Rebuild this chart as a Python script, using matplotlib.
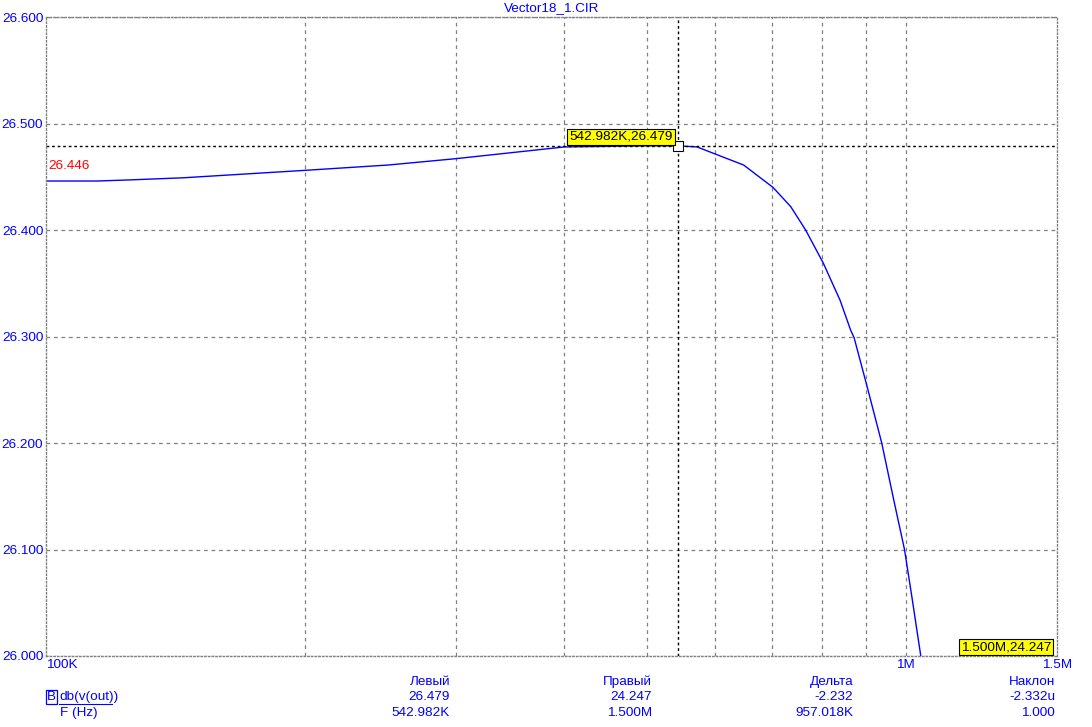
import numpy as np
import matplotlib.pyplot as plt
from matplotlib.lines import Line2D

plt.rcParams['font.family'] = ['Liberation Sans', 'DejaVu Sans']

# curve data: frequency (kHz) and db(v(out))
freq_k = [100, 114.7, 124.8, 144.3, 200, 250, 300, 401, 500, 543, 572, 602, 648,
          701, 735, 765, 802, 839, 863, 871, 902, 938, 969, 997, 1018, 1041, 1500]
db_out = [26.446, 26.446, 26.447, 26.449, 26.456, 26.461, 26.467, 26.478, 26.479, 26.479,
          26.478, 26.471, 26.461, 26.440, 26.422, 26.400, 26.369, 26.334, 26.306,
          26.299, 26.253, 26.200, 26.146, 26.100, 26.053, 26.001, 24.247]

grid_freq_k = [200, 300, 400, 500, 600, 700, 800, 900, 1000]
y_ticks = [26.0, 26.1, 26.2, 26.3, 26.4, 26.5, 26.6]
x_labels = [(100, '100K', 'left'), (1000, '1M', 'center'), (1500, '1.5M', 'center')]

cursor_f_k = 542.982
cursor_db = 26.479
right_f_k = 1500
right_db = 24.247

col_heads = ['Левый', 'Правый', 'Дельта', 'Наклон']
row_db = ['26.479', '24.247', '-2.232', '-2.332u']
row_f = ['542.982K', '1.500M', '957.018K', '1.000']

W, H = 1092, 727
BLUE = '#0000FF'
FS = 9.7


def px(x, y):
    return x / W, 1 - y / H


fig = plt.figure(figsize=(W / 100, H / 100), dpi=100, facecolor='white')
l, t = px(46, 17)
r, b = px(1057, 656)
ax = fig.add_axes([l, b, r - l, t - b])

f_hz = np.array(freq_k) * 1e3
ax.plot(f_hz, db_out, color=BLUE, lw=1.0)
ax.set_xscale('log')
ax.set_xlim(100e3, 1.5e6)
ax.set_ylim(26.0, 26.6)

ax.set_xticks(np.array(grid_freq_k) * 1e3)
ax.set_xticklabels([])
ax.xaxis.set_minor_locator(plt.NullLocator())
ax.set_yticks(y_ticks)
ax.set_yticklabels(['%.3f' % v for v in y_ticks], color=BLUE, fontsize=FS)
ax.tick_params(length=0, pad=2)
ax.grid(True, color='#808080', lw=0.9, ls=(0, (3, 3)))

for s in ax.spines.values():
    s.set_color('#808080')
    s.set_linestyle(':')
    s.set_linewidth(1.0)

for f, lab, ha in x_labels:
    ax.text(f * 1e3, -0.005, lab, transform=ax.get_xaxis_transform(),
            ha=ha, va='top', color=BLUE, fontsize=FS)

# cursor lines
ax.axvline(cursor_f_k * 1e3, color='black', lw=1.0, ls=(0, (2, 2)))
ax.axhline(cursor_db, color='black', lw=1.0, ls=(0, (2, 2)))
ax.plot([cursor_f_k * 1e3], [cursor_db], marker='s', ms=7, mfc='white',
        mec='black', mew=0.8)

ax.annotate('%.3fK,%.3f' % (cursor_f_k, cursor_db), (cursor_f_k * 1e3, cursor_db),
            xytext=(-5, 3), textcoords='offset pixels', ha='right', va='bottom',
            fontsize=FS, color='black',
            bbox=dict(boxstyle='square,pad=0.15', fc='#FFFF00', ec='black', lw=0.8))
ax.annotate('%.3fM,%.3f' % (right_f_k / 1000, right_db), (1, 0),
            xycoords='axes fraction', xytext=(-6, 3), textcoords='offset pixels',
            ha='right', va='bottom', fontsize=FS, color='black',
            bbox=dict(boxstyle='square,pad=0.15', fc='#FFFF00', ec='black', lw=0.8))

ax.text(0.002, db_out[0] + 0.008, '%.3f' % db_out[0], transform=ax.get_yaxis_transform(),
        ha='left', va='bottom', color='red', fontsize=FS)

fig.text(*px(551.5, 8), 'Vector18_1.CIR', ha='center', va='center', color=BLUE, fontsize=FS)

# bottom table
col_x = [450, 652, 853, 1055]
for x, h, v1, v2 in zip(col_x, col_heads, row_db, row_f):
    fig.text(*px(x, 682), h, ha='right', va='center', color=BLUE, fontsize=FS)
    fig.text(*px(x, 697), v1, ha='right', va='center', color=BLUE, fontsize=FS)
    fig.text(*px(x, 713), v2, ha='right', va='center', color=BLUE, fontsize=FS)

fig.text(*px(47, 697), 'B', ha='left', va='center', color=BLUE, fontsize=FS,
         bbox=dict(boxstyle='square,pad=0.05', fc='none', ec=BLUE, lw=0.9))
fig.text(*px(59, 697), 'db(v(out))', ha='left', va='center', color=BLUE, fontsize=FS)
x0, yu = px(59, 704)
x1, _ = px(112, 704)
fig.add_artist(Line2D([x0, x1], [yu, yu], color=BLUE, lw=0.8))
fig.text(*px(60, 713), 'F (Hz)', ha='left', va='center', color=BLUE, fontsize=FS)

fig.savefig('out.png', dpi=100)
